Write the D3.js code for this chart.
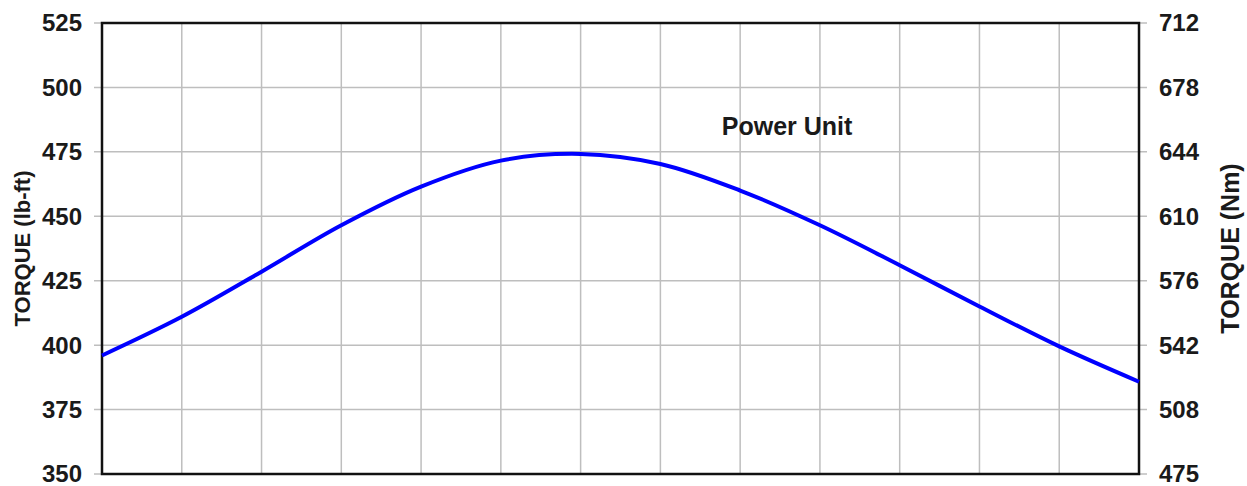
<html>
	<head>
		<script type="text/javascript" src="https://cdn.jsdelivr.net/npm/d3@7/dist/d3.min.js"></script>
		<style>
			body{
				margin:0;
				background:#fff;
			}
			svg{
				display:block;
				font-family:"Liberation Sans", Arial, sans-serif;
				font-weight:bold;
			}
			.grid line{
				stroke:#bebebe;
				stroke-width:1.5;
			}
			.tick-label{
				font-size:24px;
				fill:#1a1a1a;
			}
			.axis-title{
				font-size:22px;
				fill:#1a1a1a;
			}
		</style>
	</head>
	<body>
		<div id="container"></div>
		<script type="text/javascript">

			// x grid steps (the chart shows no x labels)
			var xSteps = [0, 1, 2, 3, 4, 5, 6, 7, 8, 9, 10, 11, 12, 13];

			// torque curve (lb-ft) at each grid column
			var torque = [396, 411, 428.5, 446.5, 461.5, 471.6, 474.2, 470.3, 460, 446.5, 431, 415, 399.5, 385.8];

			var leftTicks = [350, 375, 400, 425, 450, 475, 500, 525];
			var rightTickLabels = ["475", "508", "542", "576", "610", "644", "678", "712"];

			var NM_PER_LBFT = 1.35582;

			var width = 1247, height = 486;
			var m = {left:102, right:108, top:23, bottom:12};
			var w = width - m.left - m.right,
				h = height - m.top - m.bottom;

			var svg = d3.select("#container")
				.append("svg")
					.attr("width", width)
					.attr("height", height);

			var x = d3.scaleLinear()
				.domain([0, 13])
				.range([0, w]);

			var y = d3.scaleLinear()
				.domain([350, 525])
				.range([h, 0]);

			var yR = d3.scaleLinear()
				.domain([350 * NM_PER_LBFT, 525 * NM_PER_LBFT])
				.range([h, 0]);

			var g = svg.append("g")
				.attr("transform", "translate(" + m.left + "," + m.top + ")");

			// horizontal grid, sticking out past both axes like ticks
			var grid = g.append("g").attr("class", "grid");
			grid.selectAll("line.h").data(leftTicks).enter().append("line")
				.attr("class", "h")
				.attr("x1", -8)
				.attr("x2", w + 8)
				.attr("y1", function(d){ return y(d); })
				.attr("y2", function(d){ return y(d); });

			grid.selectAll("line.v").data(xSteps.slice(1, -1)).enter().append("line")
				.attr("class", "v")
				.attr("x1", function(d){ return x(d); })
				.attr("x2", function(d){ return x(d); })
				.attr("y1", 0)
				.attr("y2", h);

			// frame
			g.append("rect")
				.attr("x", 0)
				.attr("y", 0)
				.attr("width", w)
				.attr("height", h)
				.attr("fill", "none")
				.attr("stroke", "#111")
				.attr("stroke-width", 2.5);

			// curve
			var line = d3.line()
				.x(function(d, i){ return x(xSteps[i]); })
				.y(function(d){ return y(d); })
				.curve(d3.curveCatmullRom);

			g.append("path")
				.datum(torque)
				.attr("d", line)
				.attr("fill", "none")
				.attr("stroke", "#0000ff")
				.attr("stroke-width", 4)
				.attr("stroke-linejoin", "round");

			// left tick labels
			g.selectAll("text.left").data(leftTicks).enter().append("text")
				.attr("class", "tick-label left")
				.attr("x", -20)
				.attr("y", function(d){ return y(d); })
				.attr("dy", "0.35em")
				.attr("text-anchor", "end")
				.text(function(d){ return d; });

			// right tick labels (Nm equivalents)
			g.selectAll("text.right").data(leftTicks).enter().append("text")
				.attr("class", "tick-label right")
				.attr("x", w + 20)
				.attr("y", function(d){ return yR(d * NM_PER_LBFT); })
				.attr("dy", "0.35em")
				.attr("text-anchor", "start")
				.text(function(d, i){ return rightTickLabels[i]; });

			// axis titles
			svg.append("text")
				.attr("class", "axis-title")
				.attr("transform", "translate(30," + (m.top + h / 2) + ") rotate(-90)")
				.attr("text-anchor", "middle")
				.text("TORQUE (lb-ft)");

			svg.append("text")
				.attr("class", "axis-title")
				.style("font-size", "25px")
				.attr("transform", "translate(1239," + (m.top + h / 2) + ") rotate(-90)")
				.attr("text-anchor", "middle")
				.text("TORQUE (Nm)");

			g.append("text")
				.attr("x", x(7.77))
				.attr("y", y(475) - 17)
				.style("font-size", "25px")
				.attr("fill", "#1a1a1a")
				.text("Power Unit");

		</script>
	</body>
</html>
